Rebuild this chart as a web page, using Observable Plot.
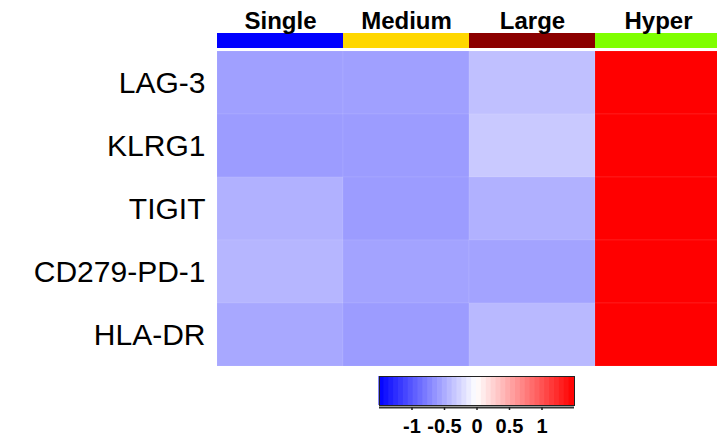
<!DOCTYPE html>
<html>
<head>
<meta charset="utf-8">
<script src="https://cdn.jsdelivr.net/npm/d3@7"></script>
<script src="https://cdn.jsdelivr.net/npm/@observablehq/plot@0.6"></script>
<style>
  html, body { margin: 0; padding: 0; background: #fff; }
  #chart { position: relative; width: 717px; height: 441px; overflow: hidden; font-family: "Liberation Sans", Arial, sans-serif; }
  #chart svg { position: absolute; left: 0; display: block; }
</style>
</head>
<body>
<div id="chart"></div>
<script>
// ---- data ----
const groups = ["Single", "Medium", "Large", "Hyper"];
const groupColors = ["#0000ff", "#ffd700", "#8b0000", "#7fff00"];
const markers = ["LAG-3", "KLRG1", "TIGIT", "CD279-PD-1", "HLA-DR"];
const singleVals = [-0.56, -0.58, -0.46, -0.43, -0.51];
const mediumVals = [-0.56, -0.58, -0.58, -0.54, -0.58];
const largeVals  = [-0.37, -0.32, -0.46, -0.54, -0.41];
const hyperVals  = [1.5, 1.5, 1.5, 1.5, 1.5];
const colorTicks = [-1, -0.5, 0, 0.5, 1];
const colorDomain = [-1.5, 0, 1.5];
const colorRange = ["#0000ff", "#ffffff", "#ff0000"];

const seriesByGroup = [singleVals, mediumVals, largeVals, hyperVals];
const cells = [];
groups.forEach((g, gi) => markers.forEach((m, mi) => cells.push({group: g, marker: m, value: seriesByGroup[gi][mi]})));

const font = "'Liberation Sans', Arial, sans-serif";
const colorScale = {type: "linear", domain: colorDomain, range: colorRange, interpolate: "rgb", clamp: true};
const root = document.getElementById("chart");

// ---- header + annotation bar ----
const head = Plot.plot({
  width: 717, height: 49,
  marginLeft: 217, marginRight: -4, marginTop: 33, marginBottom: 1,
  style: {fontFamily: font, background: "transparent", overflow: "visible"},
  x: {domain: groups, padding: 0, axis: null},
  color: {domain: groups, range: groupColors},
  marks: [
    Plot.cell(groups, {x: d => d, fill: d => d}),
    Plot.text(groups, {x: d => d, text: d => d, frameAnchor: "top", lineAnchor: "bottom", dy: -5,
      fontSize: 24, fontWeight: "bold", fill: "#000"})
  ]
});
head.style.top = "0px";
root.appendChild(head);

// ---- heatmap ----
const heat = Plot.plot({
  width: 717, height: 321,
  marginLeft: 217, marginRight: -4, marginTop: 0, marginBottom: 2,
  style: {fontFamily: font, background: "transparent"},
  x: {domain: groups, padding: 0, axis: null},
  y: {domain: markers, padding: 0, label: null},
  color: colorScale,
  marks: [
    Plot.cell(cells, {x: "group", y: "marker", fill: "value", stroke: "#ffffff", strokeOpacity: 0.08, strokeWidth: 1}),
    Plot.axisY({tickSize: 0, tickPadding: 12, fontSize: 30, label: null, fill: "#000"})
  ]
});
heat.style.top = "49px";
root.appendChild(heat);

// ---- color bar ----
const nSteps = 40;
const stepW = 3 / nSteps;
const steps = d3.range(nSteps).map(i => {
  const x1 = -1.5 + i * stepW;
  return {x1, x2: x1 + stepW, v: x1 + stepW / 2};
});
const bar = Plot.plot({
  width: 717, height: 71,
  marginLeft: 379, marginRight: 143, marginTop: 6, marginBottom: 36,
  style: {fontFamily: font, background: "transparent", overflow: "visible"},
  x: {domain: [-1.5, 1.5], axis: null},
  y: {domain: [0, 1], axis: null},
  color: colorScale,
  marks: [
    Plot.rectY(steps, {x1: "x1", x2: "x2", y1: 0, y2: 1, fill: "v", insetLeft: -0.5, insetRight: -0.5}),
    Plot.frame({stroke: "#222", strokeWidth: 1}),
    Plot.ruleY([0], {dy: 2, stroke: "#333", strokeWidth: 2}),
    Plot.ruleX(colorTicks, {x: d => d, y1: 0, y2: 0, dy: 2, insetBottom: -3, stroke: "#222", strokeWidth: 1.5}),
    Plot.text(colorTicks, {x: d => d, text: d => String(d), frameAnchor: "bottom", lineAnchor: "top", dy: 13,
      fontSize: 20, fontWeight: "bold", fill: "#000"})
  ]
});
bar.style.top = "370px";
root.appendChild(bar);
</script>
</body>
</html>
